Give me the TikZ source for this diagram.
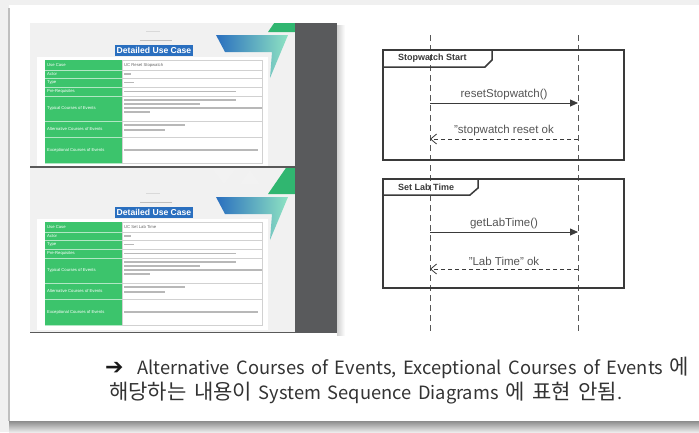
\documentclass[tikz,border=0pt]{standalone}
\usepackage{fontspec}
\setmainfont{Liberation Sans}
\newfontfamily\korfont[WordSpace=1.6]{Noto Sans CJK KR}
\newfontfamily\hangul[Scale=1.15,WordSpace=1.6]{Noto Sans CJK KR}
\newfontfamily\simbfont{DejaVu Sans}
\usetikzlibrary{arrows.meta,positioning}

\definecolor{fundoslide}{HTML}{F1F1F1}
\definecolor{verdeuc}{HTML}{3CC46C}
\definecolor{azuluc}{HTML}{2A6FBF}
\definecolor{mentauc}{HTML}{8EE3C2}
\definecolor{faixa}{HTML}{595A5C}
\definecolor{linhaseq}{HTML}{3A3A3A}
\definecolor{textoseq}{HTML}{555555}

\tikzset{
  lifeline/.style={dash pattern=on 6pt off 4pt, line width=0.9pt, linhaseq!85},
  quadro/.style={line width=1.5pt, linhaseq},
  mensagem/.style={line width=0.8pt, linhaseq, -{Triangle[length=8pt,width=7pt]}},
  retorno/.style={line width=0.8pt, linhaseq, dash pattern=on 4pt off 3pt, -{Straight Barb[length=6pt,width=10pt]}},
  rotmsg/.style={font=\fontsize{11.5}{13}\selectfont, text=textoseq, inner sep=1pt},
  rotquadro/.style={font=\bfseries\fontsize{9}{10}\selectfont, text=linhaseq, anchor=west, inner sep=0pt},
  borrao/.style={fill=black!28},
  minusculo/.style={font=\fontsize{4.2}{5}\selectfont, inner sep=0pt, anchor=west},
  conclusao/.style={font=\korfont\fontsize{18.3}{19}\selectfont, text=black!80, anchor=west, inner sep=0pt},
}

\begin{document}
\begin{tikzpicture}[x=1pt,y=-1pt]
    % Cartão de fundo
    \useasboundingbox (0,0) rectangle (699,432);
    \fill[black!6] (0,0) rectangle (699,432);
    \fill[white] (9,5) rectangle (699,421);
    \draw[black!25, line width=1.2pt] (9,8) -- (9,421);
    \shade[top color=black!45, bottom color=black!8] (9,421) rectangle (699,432);

    % Miniaturas dos slides
    \foreach \dy/\ya/\yb/\uc in {0/23/167/UC Reset Stopwatch, 162/168/332/UC Set Lab Time} {
        \begin{scope}
            \clip (30,\ya) rectangle (295,\yb);
            \begin{scope}[shift={(0,\dy)}]
                \fill[fundoslide] (30,-200) rectangle (295,200);
                \fill[black!5] (213,8) -- (235,8) -- (224,22) -- cycle;
                \fill[black!5] (240,22) -- (260,22) -- (250,8) -- cycle;
                \fill[black!5] (236,40) -- (256,40) -- (246,66) -- cycle;
                \fill[verdeuc!80!teal] (290,0) -- (300,0) -- (300,32) -- (268,32) -- cycle;
                \shade[left color=azuluc, right color=mentauc] (216,35) -- (288,35) -- (270,78) -- (272,52) -- (225,52) -- cycle;
                \fill[black!15] (146,30.5) rectangle (160,31.5);
                \fill[black!25] (140,39.5) rectangle (172,41);
                \node[fill=azuluc, text=white, font=\bfseries\fontsize{8.6}{9}\selectfont,
                      minimum width=78pt, minimum height=11pt, inner sep=0pt] (titulo\dy) at (154,50) {Detailed Use Case};
                \fill[white] (37,57) rectangle (268,168);
                \fill[verdeuc] (45,60) rectangle (122,163);
                \foreach \ra/\rb/\rot in {60/70/Use Case, 70/78/Actor, 78/87/Type, 87/96/Pre-Requisites,
                        96/121/Typical Courses of Events, 121/137/Alternative Courses of Events,
                        137/163/Exceptional Courses of Events} {
                    \draw[black!18, line width=0.4pt] (122,\ra) rectangle (262,\rb);
                    \draw[white!60!verdeuc, line width=0.4pt] (45,\rb) -- (122,\rb);
                    \node[minusculo, text=white] (rot\dy-\ra) at (47,{(\ra+\rb)/2}) {\rot};
                }
                \node[minusculo, text=black!60] (nome\dy) at (124,65) {\uc};
                % Texto borrado das células
                \foreach \ly/\lx in {74/131, 82.5/134, 91.5/236, 100/236, 104/200, 108/262, 112/150,
                        125/185, 130/165, 150/258} {
                    \fill[borrao] (124,\ly-0.7) rectangle (\lx,\ly+0.7);
                }
            \end{scope}
        \end{scope}
    }
    \draw[black!65, line width=1.6pt] (30,167) -- (295,167);
    \draw[black!65, line width=1.6pt] (30,332.5) -- (295,332.5);
    \fill[faixa] (295,23) rectangle (337,333);
    \shade[left color=black!18, right color=white] (337,25) rectangle (345,335);

    % Linhas de vida
    \coordinate (usuTopo) at (430,35);
    \coordinate (usuBase) at (430,333);
    \coordinate (sisTopo) at (578,35);
    \coordinate (sisBase) at (578,333);
    \draw[lifeline] (usuTopo) -- (usuBase);
    \draw[lifeline] (sisTopo) -- (sisBase);

    % Quadro Stopwatch Start
    \draw[quadro] (383,50) rectangle (624,160);
    \draw[quadro] (383,67) -- (485,67) -- (492,60) -- (492,50);
    \node[rotquadro] (rotStart) at (398,58.5) {Stopwatch Start};
    \coordinate (m1a) at (430,103);
    \coordinate (m1b) at (578,103);
    \coordinate (r1a) at (578,139);
    \coordinate (r1b) at (430,139);
    \draw[mensagem] (m1a) -- (m1b) node[rotmsg, midway, above=2pt] (rotReset) {resetStopwatch()};
    \draw[retorno] (r1a) -- (r1b) node[rotmsg, midway, above=2pt] (rotResetOk) {"stopwatch reset ok};

    % Quadro Set Lab Time
    \draw[quadro] (383,179) rectangle (624,288);
    \draw[quadro] (383,195) -- (470,195) -- (478,188) -- (478,179);
    \node[rotquadro] (rotLab) at (398,187) {Set Lab Time};
    \coordinate (m2a) at (430,232);
    \coordinate (m2b) at (578,232);
    \coordinate (r2a) at (578,269);
    \coordinate (r2b) at (430,269);
    \draw[mensagem] (m2a) -- (m2b) node[rotmsg, midway, above=2pt] (rotGet) {getLabTime()};
    \draw[retorno] (r2a) -- (r2b) node[rotmsg, midway, above=2pt] (rotLabOk) {"Lab Time" ok};

    % Conclusão
    \node[font=\simbfont\fontsize{22}{22}\selectfont, text=black!90, anchor=west, inner sep=0pt] (seta) at (105,368) {➔};
    \node[conclusao] (linha1) at (137,368) {Alternative Courses of Events, Exceptional Courses of Events {\hangul 에}};
    \node[conclusao] (linha2) at (109,393) {{\hangul 해당하는 내용이} System Sequence Diagrams {\hangul 에 표현 안됨}.};
\end{tikzpicture}
\end{document}
